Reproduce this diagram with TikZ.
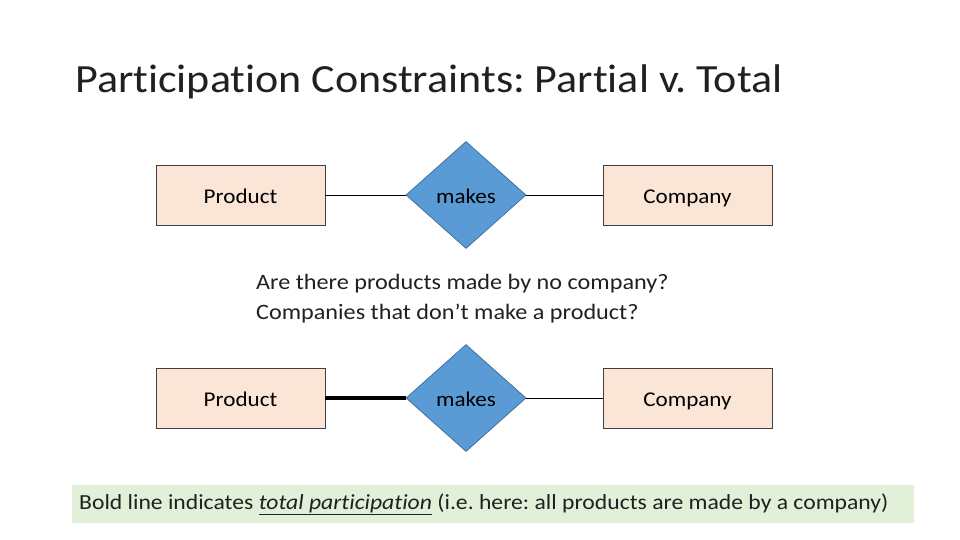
\documentclass[tikz,border=0pt]{standalone}
\usepackage{fontspec}
\setmainfont{Carlito}[FakeStretch=1.1,Ligatures=NoCommon]
\usetikzlibrary{shapes.geometric}
\usetikzlibrary{positioning}
\frenchspacing

\definecolor{entfill}{HTML}{FBE5D6}
\definecolor{entline}{HTML}{404040}
\definecolor{relfill}{HTML}{5B9BD5}
\definecolor{relline}{HTML}{41719C}
\definecolor{notefill}{HTML}{E2F0D9}
\definecolor{textgray}{HTML}{202020}

\begin{document}
\begin{tikzpicture}[x=1pt,y=-1pt,
    entity/.style={rectangle,draw=entline,fill=entfill,line width=0.8pt,
        minimum width=169pt,minimum height=60pt,inner sep=0pt,
        text height=16pt,text depth=0pt,
        font=\fontsize{21}{25}\selectfont},
    relation/.style={diamond,draw=relline,fill=relfill,line width=0.8pt,
        minimum width=120pt,minimum height=107pt,inner sep=0pt,
        text height=16pt,text depth=0pt,
        font=\fontsize{21}{25}\selectfont},
    partial/.style={draw=black,line width=0.9pt},
    total/.style={draw=black,line width=4pt}]

    \useasboundingbox (0,0) rectangle (960,540);

    % title
    \node[anchor=base west,inner sep=0pt,text=textgray,
        font=\fontsize{40}{48}\selectfont] (title) at (75,93)
        {Participation Constraints: Partial v. Total};

    % first diagram: partial participation
    \node[entity] (prodA) at (240.5,195) {Product};
    \node[relation] (makesA) at (466,195) {makes};
    \node[entity] (compA) at (687.5,195) {Company};

    \path[partial] (prodA) -- (makesA);
    \path[partial] (makesA) -- (compA);

    % the question
    \node[anchor=base west,inner sep=0pt,align=left,text=textgray,
        font=\fontsize{22}{30}\selectfont] (question) at (256,319)
        {Are there products made by no company?\\
         Companies that don’t make a product?};

    % second diagram: total participation of Product
    \node[entity] (prodB) at (240.5,398) {Product};
    \node[relation] (makesB) at (466,398) {makes};
    \node[entity] (compB) at (687.5,398) {Company};

    \path[total] (prodB) -- (makesB);
    \path[partial] (makesB) -- (compB);

    % note
    \node[fill=notefill,minimum width=842pt,minimum height=38pt,inner sep=0pt,
        anchor=north west] (notebox) at (72,485) {};
    \node[anchor=west,inner sep=0pt,text=textgray,
        font=\fontsize{21.5}{25}\selectfont] (note) at (79,504)
        {Bold line indicates \underline{\textit{total participation}} (i.e. here: all products are made by a company)};

\end{tikzpicture}
\end{document}
